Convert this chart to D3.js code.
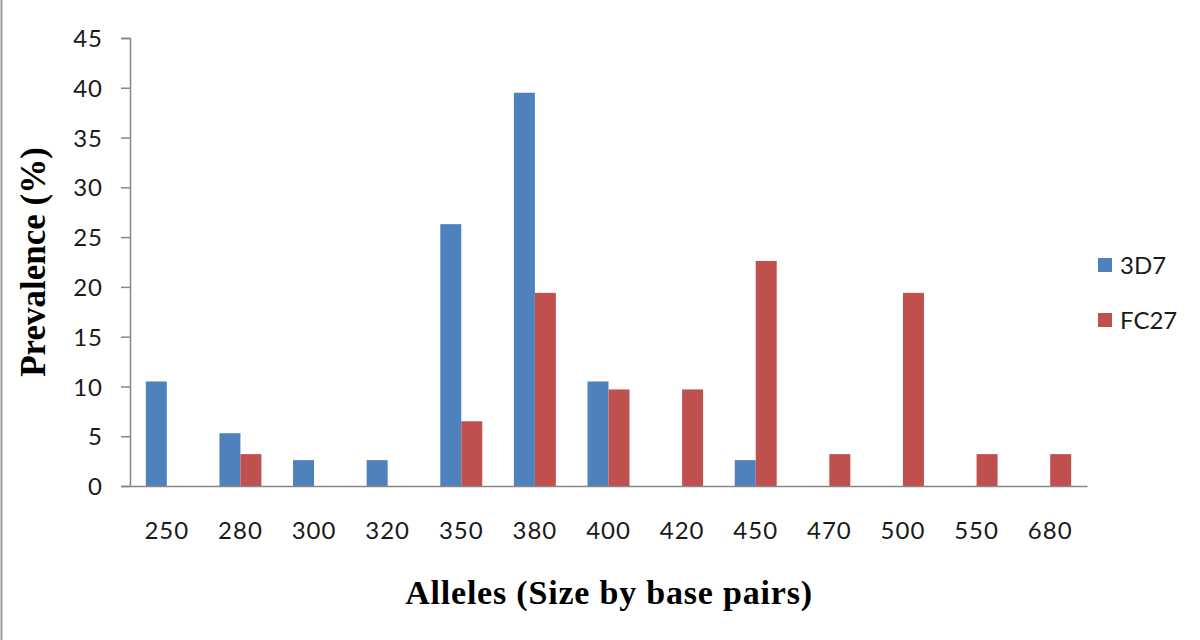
<!DOCTYPE html>
<html>
<head>
<meta charset="utf-8">
<script src="https://cdn.jsdelivr.net/npm/d3@7"></script>
<style>
  body { margin: 0; background: #fff; }
  svg { display: block; }
  .tick text { font-family: Lato, "Open Sans", sans-serif; }
</style>
</head>
<body>
<svg id="chart"></svg>
<script>
const categories = ['250', '280', '300', '320', '350', '380', '400', '420', '450', '470', '500', '550', '680'];
const series = ['3D7', 'FC27'];
const values3D7 = [10.5, 5.3, 2.6, 2.6, 26.3, 39.5, 10.5, 0, 2.6, 0, 0, 0, 0];
const valuesFC27 = [0, 3.2, 0, 0, 6.5, 19.4, 9.7, 9.7, 22.6, 3.2, 19.4, 3.2, 3.2];
const yTicks = [0, 5, 10, 15, 20, 25, 30, 35, 40, 45];
const colors = ['#4F81BD', '#C0504D'];

const width = 1200;
const height = 640;
const plotLeft = 130, plotRight = 1087, plotTop = 38, plotBottom = 486;

const svg = d3.select('#chart').attr('width', width).attr('height', height);

// frame line on the left edge of the figure
svg.append('line')
  .attr('x1', 1.5).attr('x2', 1.5)
  .attr('y1', 0).attr('y2', height)
  .attr('stroke', '#9a9a9a').attr('stroke-width', 2);

const x = d3.scaleBand()
  .domain(categories)
  .range([plotLeft, plotRight])
  .paddingInner(0.43)
  .paddingOuter(0.215);

const xSub = d3.scaleBand()
  .domain(series)
  .range([0, x.bandwidth()]);

const y = d3.scaleLinear()
  .domain([0, 45])
  .range([plotBottom, plotTop]);

const data = categories.map((c, i) => ({
  cat: c,
  vals: [
    { key: '3D7', v: values3D7[i] },
    { key: 'FC27', v: valuesFC27[i] }
  ]
}));

const colorScale = d3.scaleOrdinal().domain(series).range(colors);

// bars
svg.append('g')
  .selectAll('g')
  .data(data)
  .enter()
  .append('g')
  .attr('transform', d => `translate(${x(d.cat)},0)`)
  .selectAll('rect')
  .data(d => d.vals.filter(s => s.v > 0))
  .enter()
  .append('rect')
  .attr('x', d => xSub(d.key))
  .attr('width', xSub.bandwidth())
  .attr('y', d => y(d.v))
  .attr('height', d => plotBottom - y(d.v))
  .attr('fill', d => colorScale(d.key));

// y axis
const yAxis = d3.axisLeft(y).tickValues(yTicks).tickSize(9).tickPadding(18);
const gy = svg.append('g')
  .attr('transform', `translate(${plotLeft},0)`)
  .call(yAxis);
gy.select('.domain').attr('stroke', '#878787').attr('stroke-width', 1.5);
gy.selectAll('.tick line').attr('stroke', '#878787').attr('stroke-width', 1.5);
gy.selectAll('.tick text')
  .attr('font-size', 24)
  .attr('fill', '#1a1a1a')
  .style('letter-spacing', '1px')
  .attr('dy', '0.36em');

// x axis
const xAxis = d3.axisBottom(x).tickSize(0).tickPadding(36);
const gx = svg.append('g')
  .attr('transform', `translate(0,${plotBottom})`)
  .call(xAxis);
gx.select('.domain').attr('stroke', '#878787').attr('stroke-width', 1.5);
gx.selectAll('.tick text')
  .attr('font-size', 24)
  .attr('fill', '#1a1a1a')
  .style('letter-spacing', '1px');

// axis titles
svg.append('text')
  .attr('x', 609)
  .attr('y', 604)
  .attr('text-anchor', 'middle')
  .attr('font-family', '"Liberation Serif", "Times New Roman", serif')
  .attr('font-weight', 'bold')
  .attr('font-size', 34)
  .style('letter-spacing', '0.8px')
  .text('Alleles (Size by base pairs)');

svg.append('text')
  .attr('transform', 'translate(45,262) rotate(-90)')
  .attr('text-anchor', 'middle')
  .attr('font-family', '"Liberation Serif", "Times New Roman", serif')
  .attr('font-weight', 'bold')
  .attr('font-size', 35)
  .text('Prevalence (%)');

// legend
const legend = svg.append('g')
  .selectAll('g')
  .data(series)
  .enter()
  .append('g')
  .attr('transform', (d, i) => `translate(1098,${258 + i * 55})`);

legend.append('rect')
  .attr('width', 14)
  .attr('height', 14)
  .attr('fill', d => colorScale(d));

legend.append('text')
  .attr('x', 22)
  .attr('y', 7)
  .attr('dy', '0.36em')
  .attr('font-family', 'Lato, "Open Sans", sans-serif')
  .attr('font-size', 24)
  .attr('fill', '#1a1a1a')
  .text(d => d);
</script>
</body>
</html>
